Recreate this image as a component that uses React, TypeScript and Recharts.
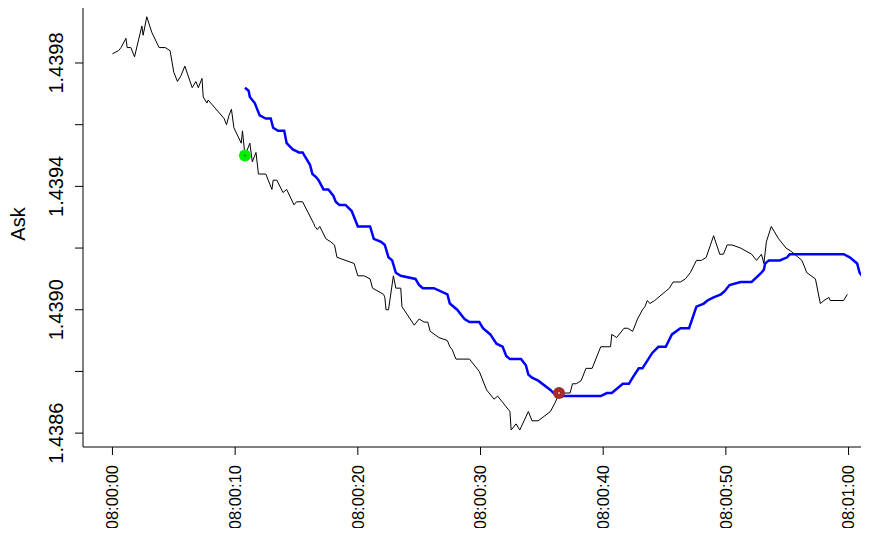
import React from "react";
import {
  ComposedChart,
  Line,
  Scatter,
  XAxis,
  YAxis,
  Label,
} from "recharts";

// seconds after 08:00:00
const blackSeconds = [
  0.0, 0.5, 0.7, 1.1, 1.2, 1.5, 1.8, 2.4, 2.5, 2.8, 3.2, 3.8, 4.3, 4.7, 5.0, 5.3, 5.6, 5.9, 6.5, 6.8,
  7.0, 7.3, 7.4, 7.7, 7.8, 9.1, 9.3, 9.5, 9.7, 9.9, 10.5, 10.6, 10.8, 11.2, 11.4, 11.7, 11.9, 12.5, 13.0, 13.1,
  13.4, 13.9, 14.2, 14.8, 15.0, 15.5, 16.4, 16.5, 16.7, 16.9, 17.4, 17.8, 18.1, 18.3, 19.7, 20.0, 20.5, 21.0, 21.2, 22.1,
  22.2, 22.3, 22.5, 22.9, 23.1, 23.5, 23.6, 24.6, 25.0, 25.4, 25.7, 25.9, 26.6, 27.3, 27.5, 27.7, 28.0, 29.1, 29.9, 30.5,
  30.7, 31.1, 31.4, 31.8, 32.4, 32.5, 32.9, 33.2, 33.9, 34.2, 34.7, 35.7, 36.1, 36.4, 36.8, 37.3, 37.5, 37.8, 38.2, 38.6,
  39.1, 39.8, 40.6, 40.7, 41.1, 41.7, 42.0, 42.4, 42.8, 43.2, 43.4, 43.6, 43.8, 44.2, 44.8, 45.1, 45.4, 45.7, 45.9, 46.3,
  46.7, 47.1, 47.6, 48.0, 48.4, 49.0, 49.5, 49.8, 50.1, 50.5, 51.2, 52.1, 52.5, 52.9, 53.1, 53.3, 53.7, 54.3, 54.9, 55.3,
  56.2, 56.6, 57.3, 57.7, 58.0, 58.4, 58.5, 59.6, 59.9,
];
const blackAsk = [
  1.43983, 1.43984, 1.43985, 1.43988, 1.43985, 1.43985, 1.43982, 1.43992, 1.43989, 1.43995, 1.4399, 1.43985, 1.43985, 1.43984, 1.43977, 1.43974, 1.43976, 1.43979, 1.43972, 1.43974,
  1.43972, 1.43975, 1.43969, 1.43967, 1.43968, 1.43962, 1.4396, 1.43963, 1.43965, 1.43959, 1.43954, 1.43958, 1.4395, 1.43954, 1.43948, 1.43951, 1.43944, 1.43944, 1.43939, 1.43942,
  1.43942, 1.43938, 1.43939, 1.43934, 1.43935, 1.43935, 1.43928, 1.43927, 1.43926, 1.43927, 1.43923, 1.43922, 1.43921, 1.43917, 1.43915, 1.43911, 1.43911, 1.4391, 1.43907, 1.43905,
  1.43904, 1.439, 1.439, 1.43911, 1.43907, 1.43907, 1.43901, 1.43895, 1.43897, 1.43896, 1.43896, 1.43893, 1.43891, 1.4389, 1.43888, 1.43887, 1.43884, 1.43884, 1.4388, 1.43874,
  1.43873, 1.43871, 1.43872, 1.4387, 1.43867, 1.43861, 1.43863, 1.43861, 1.43867, 1.43864, 1.43864, 1.43867, 1.4387, 1.43873, 1.43873, 1.43873, 1.43876, 1.43876, 1.43877, 1.43881,
  1.43881, 1.43888, 1.43888, 1.43892, 1.43891, 1.43894, 1.43894, 1.43893, 1.43897, 1.439, 1.43901, 1.43903, 1.43902, 1.43903, 1.43905, 1.43906, 1.43907, 1.43909, 1.43909, 1.43909,
  1.4391, 1.43912, 1.43916, 1.43916, 1.43917, 1.43924, 1.43918, 1.43918, 1.43921, 1.43921, 1.4392, 1.43918, 1.43916, 1.43918, 1.43915, 1.43922, 1.43927, 1.43923, 1.4392, 1.43919,
  1.43916, 1.43912, 1.4391, 1.43902, 1.43903, 1.43904, 1.43903, 1.43903, 1.43905,
];

const blueSeconds = [
  10.8, 11.1, 11.2, 11.6, 12.0, 12.5, 12.9, 13.1, 13.5, 14.0, 14.2, 14.7, 15.2, 15.5, 15.8, 16.1, 16.3, 16.6, 16.8, 17.2,
  17.6, 18.0, 18.2, 18.5, 19.0, 19.5, 19.8, 20.0, 21.0, 21.3, 21.9, 22.2, 22.5, 22.8, 23.1, 23.5, 24.7, 25.0, 25.3, 26.2,
  27.3, 27.5, 28.1, 28.7, 29.1, 29.9, 30.2, 30.8, 31.3, 31.8, 32.1, 32.4, 33.3, 33.7, 33.9, 34.2, 34.7, 35.7, 36.2, 36.7,
  39.8, 40.3, 40.7, 41.6, 42.1, 42.4, 42.9, 43.2, 44.0, 44.5, 45.1, 45.6, 46.3, 47.0, 47.6, 48.2, 48.5, 49.0, 49.6, 49.9,
  50.3, 51.2, 52.1, 52.9, 53.1, 53.2, 53.5, 54.4, 55.0, 55.2, 59.6, 60.1, 60.7, 60.9, 61.3, 61.7, 62.2,
];
const blueLevel = [
  1.43972, 1.43971, 1.43969, 1.43967, 1.43963, 1.43962, 1.43962, 1.43959, 1.43958, 1.43958, 1.43954, 1.43952, 1.43951, 1.43951, 1.43949, 1.43947, 1.43944, 1.43943, 1.43942, 1.43939,
  1.43939, 1.43937, 1.43935, 1.43934, 1.43934, 1.43932, 1.43929, 1.43927, 1.43927, 1.43923, 1.43922, 1.43921, 1.43917, 1.43916, 1.43912, 1.43911, 1.4391, 1.43908, 1.43907, 1.43907,
  1.43905, 1.43902, 1.439, 1.43897, 1.43896, 1.43896, 1.43894, 1.43892, 1.43889, 1.43888, 1.43885, 1.43884, 1.43884, 1.43882, 1.43879, 1.43878, 1.43877, 1.43874, 1.43872, 1.43872,
  1.43872, 1.43873, 1.43873, 1.43876, 1.43876, 1.43878, 1.43881, 1.43881, 1.43886, 1.43888, 1.43888, 1.43892, 1.43894, 1.43894, 1.43901, 1.43902, 1.43903, 1.43904, 1.43905, 1.43906,
  1.43908, 1.43909, 1.43909, 1.43912, 1.43913, 1.43915, 1.43916, 1.43916, 1.43917, 1.43918, 1.43918, 1.43917, 1.43915, 1.43912, 1.4391, 1.43906, 1.43903,
];

const entrySeconds = [10.8];
const entryAsk = [1.4395];
const exitSeconds = [36.4];
const exitAsk = [1.43873];

const xTicks = [0, 10, 20, 30, 40, 50, 60];
const xTickLabels = ["08:00:00", "08:00:10", "08:00:20", "08:00:30", "08:00:40", "08:00:50", "08:01:00"];
const yTicks = [1.4386, 1.4388, 1.439, 1.4392, 1.4394, 1.4396, 1.4398];
const yTickLabels = ["1.4386", "", "1.4390", "", "1.4394", "", "1.4398"];

const zip = (xs: number[], ys: number[]) => xs.map((t, i) => ({ t, price: ys[i] }));
const askData = zip(blackSeconds, blackAsk);
const stopData = zip(blueSeconds, blueLevel);
const entryData = zip(entrySeconds, entryAsk);
const exitData = zip(exitSeconds, exitAsk);

const FONT = "Liberation Sans, Arial, sans-serif";

const XTick = ({ x, y, payload }: any) => {
  const i = xTicks.indexOf(payload.value);
  return (
    <text
      x={x}
      y={y}
      transform={`rotate(-90 ${x} ${y})`}
      textAnchor="end"
      dy="0.35em"
      fontSize={16.5}
      fontFamily={FONT}
      fill="#000"
    >
      {xTickLabels[i]}
    </text>
  );
};

const YTick = ({ x, y, payload }: any) => {
  const i = yTicks.findIndex((v) => Math.abs(v - payload.value) < 1e-9);
  return (
    <text
      x={x}
      y={y}
      transform={`rotate(-90 ${x} ${y})`}
      textAnchor="middle"
      fontSize={20}
      fontFamily={FONT}
      fill="#000"
    >
      {yTickLabels[i]}
    </text>
  );
};

const AskLabel = ({ viewBox }: any) => {
  const cx = 25;
  const cy = viewBox.y + viewBox.height / 2;
  return (
    <text
      x={cx}
      y={cy}
      transform={`rotate(-90 ${cx} ${cy})`}
      textAnchor="middle"
      fontSize={20}
      fontFamily={FONT}
      fill="#000"
    >
      Ask
    </text>
  );
};

const dotShape = (fill: string, core: string) => (props: any) => (
  <g>
    <circle cx={props.cx} cy={props.cy} r={6} fill={fill} />
    <circle cx={props.cx} cy={props.cy} r={0.9} fill={core} />
  </g>
);

export default function App() {
  return (
    <div style={{ margin: -8, width: 869, height: 536, overflow: "hidden", background: "#fff" }}>
      <ComposedChart
        width={878}
        height={536}
        margin={{ top: 1, right: 0, bottom: 0, left: 0 }}
        style={{ background: "#fff" }}
      >
        <XAxis
          xAxisId="top"
          orientation="top"
          type="number"
          domain={[-2.4, 62.4]}
          height={0}
          tick={false}
          tickLine={false}
          axisLine={{ stroke: "#000", strokeWidth: 1 }}
        />
        <XAxis
          dataKey="t"
          type="number"
          domain={[-2.4, 62.4]}
          allowDataOverflow
          ticks={xTicks}
          interval={0}
          height={89}
          tickSize={8}
          tickMargin={10}
          tick={<XTick />}
          tickLine={{ stroke: "#000" }}
          axisLine={{ stroke: "#000", strokeWidth: 1 }}
        />
        <YAxis
          type="number"
          domain={[1.438555, 1.440001]}
          allowDataOverflow
          ticks={yTicks}
          interval={0}
          width={83}
          tickSize={8}
          tickMargin={12}
          tick={<YTick />}
          tickLine={{ stroke: "#000" }}
          axisLine={{ stroke: "#000", strokeWidth: 1 }}
        >
          <Label content={<AskLabel />} />
        </YAxis>
        <Line
          data={askData}
          dataKey="price"
          type="linear"
          stroke="#000"
          strokeWidth={1}
          dot={false}
          isAnimationActive={false}
        />
        <Line
          data={stopData}
          dataKey="price"
          type="linear"
          stroke="#0000ff"
          strokeWidth={2.5}
          dot={false}
          isAnimationActive={false}
        />
        <Scatter
          data={entryData}
          dataKey="price"
          shape={dotShape("#00ee00", "#3a6a3a")}
          isAnimationActive={false}
        />
        <Scatter
          data={exitData}
          dataKey="price"
          shape={dotShape("#a52a2a", "#f3d6d6")}
          isAnimationActive={false}
        />
      </ComposedChart>
    </div>
  );
}
